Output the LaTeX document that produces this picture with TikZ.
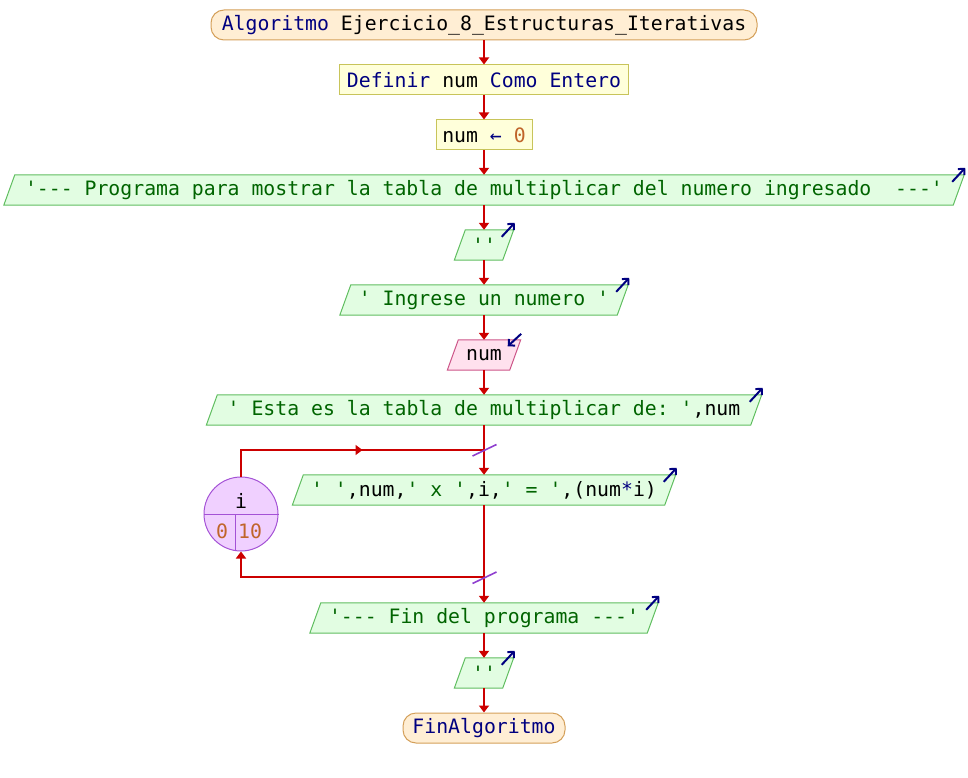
\documentclass[tikz,border=0pt]{standalone}
\usepackage{fontspec}
\setmonofont{DejaVu Sans Mono}
\usetikzlibrary{arrows.meta,calc,backgrounds}
\definecolor{termfill}{RGB}{255,238,212}
\definecolor{termdraw}{RGB}{212,160,90}
\definecolor{procfill}{RGB}{255,255,218}
\definecolor{procdraw}{RGB}{200,196,90}
\definecolor{outfill}{RGB}{226,253,226}
\definecolor{outdraw}{RGB}{96,190,96}
\definecolor{infill}{RGB}{255,225,238}
\definecolor{indraw}{RGB}{204,85,136}
\definecolor{circfill}{RGB}{240,208,255}
\definecolor{circdraw}{RGB}{164,82,214}
\definecolor{flowred}{RGB}{204,0,0}
\definecolor{navy}{RGB}{0,0,128}
\definecolor{strgreen}{RGB}{0,100,0}
\definecolor{numor}{RGB}{192,101,42}
\definecolor{slashpurple}{RGB}{143,63,207}
\newcommand\paral[3]{%
  \draw[fill=#2,draw=#3,line width=1pt] ([xshift=-5.5pt]#1.south west) -- ([xshift=5.5pt]#1.north west) -- ([xshift=5.5pt]#1.north east) -- ([xshift=-5.5pt]#1.south east) -- cycle;}
\newcommand\outicon[1]{%
  \draw[icon] ($(#1.north east)+(-6.5,7)$) -- ($(#1.north east)+(6.5,-7)$);}
\newcommand\inicon[1]{%
  \draw[icon] ($(#1.north east)+(6,-6)$) -- ($(#1.north east)+(-7.5,6.5)$);}
\begin{document}
\begin{tikzpicture}[x=1pt,y=-1pt,
  txt/.style={font=\ttfamily\fontsize{19.8}{22}\selectfont, inner sep=0pt, minimum height=30pt},
  term/.style={txt, draw=termdraw, fill=termfill, rounded corners=13pt, line width=1pt},
  proc/.style={txt, draw=procdraw, fill=procfill, line width=1pt},
  para/.style={txt},
  flowline/.style={draw=flowred, line width=2pt},
  flow/.style={flowline, -{Triangle[length=7pt,width=10pt]}},
  icon/.style={draw=navy, line width=2pt, -{Straight Barb[length=4.5pt,width=9pt]}},
  slash/.style={draw=slashpurple, line width=1.6pt},
  circtxt/.style={font=\ttfamily\fontsize{19.8}{22}\selectfont, inner sep=0pt}]
\useasboundingbox (0,0) rectangle (968,778);

\node[term, minimum width=546pt] (start) at (484,25) {{\color{navy}Algoritmo} Ejercicio\_8\_Estructuras\_Iterativas};
\node[proc, minimum width=289pt] (def) at (484,80) {{\color{navy}Definir} num {\color{navy}Como Entero}};
\node[proc, minimum width=96pt] (asg) at (484,135) {num {\color{navy}←} {\color{numor}0}};
\node[para, minimum width=949pt] (prog) at (484,190) {\color{strgreen}'--- Programa para mostrar la tabla de multiplicar del numero ingresado\ \ ---'};
\node[para, minimum width=48pt] (e1) at (484,245) {\color{strgreen}''};
\node[para, minimum width=277pt] (ingr) at (484,300) {\color{strgreen}' Ingrese un numero '};
\node[para, minimum width=62pt] (innum) at (484,355) {num};
\node[para, minimum width=544pt] (esta) at (484,410) {{\color{strgreen}' Esta es la tabla de multiplicar de: '},num};
\node[para, minimum width=372pt] (wr) at (484,490) {{\color{strgreen}' '},num,{\color{strgreen}' x '},i,{\color{strgreen}' = '},(num{\color{navy}*}i)};
\node[para, minimum width=337pt] (fin) at (484,618) {\color{strgreen}'--- Fin del programa ---'};
\node[para, minimum width=48pt] (e2) at (484,673) {\color{strgreen}''};
\node[term, minimum width=162pt] (stop) at (484,728) {\color{navy}FinAlgoritmo};

\node[circle, draw=circdraw, fill=circfill, line width=1pt, minimum size=74pt, inner sep=0pt] (loop) at (241,514) {};
\draw[circdraw, line width=1pt] (loop.west) -- (loop.east);
\coordinate (vtop) at (235.5,514);
\coordinate (vbot) at (235.5,550.5);
\draw[circdraw, line width=1pt] (vtop) -- (vbot);
\node[circtxt] (li) at (241,501) {i};
\node[circtxt, text=numor] (l0) at (222,531) {0};
\node[circtxt, text=numor] (l10) at (250,531) {10};

\begin{pgfonlayer}{background}
\paral{prog}{outfill}{outdraw}
\paral{e1}{outfill}{outdraw}
\paral{ingr}{outfill}{outdraw}
\paral{innum}{infill}{indraw}
\paral{esta}{outfill}{outdraw}
\paral{wr}{outfill}{outdraw}
\paral{fin}{outfill}{outdraw}
\paral{e2}{outfill}{outdraw}
\end{pgfonlayer}

\outicon{prog}
\outicon{e1}
\outicon{ingr}
\inicon{innum}
\outicon{esta}
\outicon{wr}
\outicon{fin}
\outicon{e2}

\draw[flow] (start.south) -- (def.north);
\draw[flow] (def.south) -- (asg.north);
\draw[flow] (asg.south) -- (prog.north);
\draw[flow] (prog.south) -- (e1.north);
\draw[flow] (e1.south) -- (ingr.north);
\draw[flow] (ingr.south) -- (innum.north);
\draw[flow] (innum.south) -- (esta.north);

\coordinate (jt) at (484,450);
\coordinate (lt) at (241,450);
\coordinate (jb) at (484,577);
\coordinate (lb) at (241,577);
\draw[flowline] (esta.south) -- (jt);
\draw[flow] (jt) -- (wr.north);
\draw[flowline] (loop.north) -- (lt) -- (jt);
\draw[flow] (lt) -- ($(lt)!0.5!(jt)$);
\draw[flowline] (wr.south) -- (jb);
\draw[flow] (jb) -- (fin.north);
\draw[flow] (jb) -- (lb) -- (loop.south);
\draw[slash] ($(jt)+(-11.5,6)$) -- ($(jt)+(12.5,-5.5)$);
\draw[slash] ($(jb)+(-11.5,6.5)$) -- ($(jb)+(12.5,-5)$);

\draw[flow] (fin.south) -- (e2.north);
\draw[flow] (e2.south) -- (stop.north);
\end{tikzpicture}
\end{document}
